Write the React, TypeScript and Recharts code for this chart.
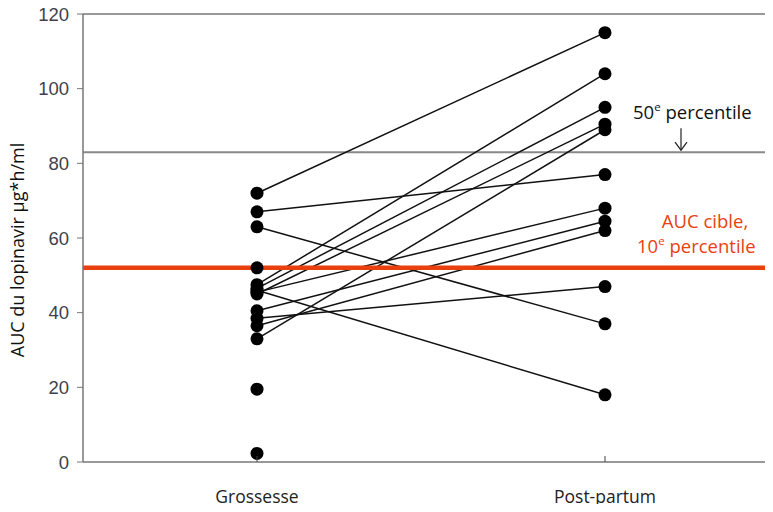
import { ComposedChart, Line, Scatter, XAxis, YAxis, ReferenceLine } from 'recharts';

const categories = ['Grossesse', 'Post-partum'];
// paired patients: value during pregnancy -> value post-partum
const grossesse = [72, 67, 63, 47.5, 46.5, 45, 33, 46, 45.5, 40.5, 38.5, 36.5];
const postPartum = [115, 77, 37, 104, 95, 90.5, 89, 18, 68, 64.5, 47, 62];
// pregnancy values without a post-partum measure
const grossesseSeule = [52, 19.5, 2.3];
const yTicks = [0, 20, 40, 60, 80, 100, 120];
const percentile50 = 83;
const aucCible = 52;

const RED = '#e8410f';
const FONT = '"Open Sans", sans-serif';

const pairs = grossesse.map((g, i) => [
  { x: 1, y: g },
  { x: 2, y: postPartum[i] },
]);
const single = grossesseSeule.map((y) => ({ x: 1, y }));

const dot = { r: 6.5, fill: '#000', stroke: 'none' };

function XTick(props: any) {
  const { x, y, payload } = props;
  return (
    <g>
      <line x1={x} x2={x} y1={y - 6} y2={y} stroke="#444" strokeWidth={1} />
      <text x={x} y={y + 41} textAnchor="middle" fontFamily={FONT} fontSize={17.5} fill="#222">
        {categories[payload.value - 1]}
      </text>
    </g>
  );
}

function Label50(props: any) {
  const { viewBox } = props;
  const y = viewBox.y;
  return (
    <g>
      <text x={633} y={y - 33} fontFamily={FONT} fontSize={18.5} fill="#111">
        50<tspan fontSize={11.5} dy={-8}>e</tspan>
        <tspan dy={8}> percentile</tspan>
      </text>
      <line x1={681} x2={681} y1={y - 24} y2={y - 2} stroke="#222" strokeWidth={1.2} />
      <polyline points={`675,${y - 10} 681,${y - 2} 687,${y - 10}`} fill="none" stroke="#222" strokeWidth={1.2} />
    </g>
  );
}

function LabelCible(props: any) {
  const { viewBox } = props;
  const y = viewBox.y;
  return (
    <g fontFamily={FONT} fontSize={18.5} fill={RED}>
      <text x={705} y={y - 40} textAnchor="middle">AUC cible,</text>
      <text x={637} y={y - 15}>
        10<tspan fontSize={11.5} dy={-8}>e</tspan>
        <tspan dy={8}> percentile</tspan>
      </text>
    </g>
  );
}

export default function App() {
  return (
    <div style={{ margin: -8, width: 773, height: 512, overflow: 'hidden', position: 'relative', background: '#fff' }}>
      <ComposedChart width={790} height={512} margin={{ top: 14, right: 11, left: 0, bottom: 0 }}>
        <XAxis
          type="number"
          dataKey="x"
          domain={[0.5, 2.5]}
          ticks={[1, 2]}
          allowDataOverflow
          height={50}
          tickSize={0}
          tickMargin={0}
          tick={<XTick />}
          axisLine={{ stroke: '#777', strokeWidth: 1.5 }}
        />
        <YAxis
          type="number"
          domain={[0, 120]}
          ticks={yTicks}
          width={83}
          tickSize={6}
          tickMargin={8}
          axisLine={{ stroke: '#777', strokeWidth: 1.5 }}
          tickLine={{ stroke: '#777' }}
          tick={{ fill: '#3f3f4c', fontSize: 18.5, fontFamily: '"Liberation Sans", Arial, sans-serif' }}
          label={{
            value: 'AUC du lopinavir µg*h/ml',
            angle: -90,
            position: 'insideLeft',
            dx: 13,
            dy: 12,
            style: { textAnchor: 'middle', fontFamily: FONT, fontSize: 18, fill: '#111' },
          }}
        />
        <ReferenceLine y={120} stroke="#777" strokeWidth={1.5} />
        <ReferenceLine y={percentile50} stroke="#888" strokeWidth={2} label={<Label50 />} />
        {pairs.map((d, i) => (
          <Line
            key={i}
            data={d}
            dataKey="y"
            stroke="#111"
            strokeWidth={1.5}
            dot={dot}
            activeDot={false}
            isAnimationActive={false}
          />
        ))}
        <Scatter
          data={single}
          dataKey="y"
          isAnimationActive={false}
          shape={(p: any) => <circle cx={p.cx} cy={p.cy} r={6.5} fill="#000" />}
        />
        <ReferenceLine y={aucCible} stroke={RED} strokeWidth={4.5} label={<LabelCible />} />
      </ComposedChart>
    </div>
  );
}
